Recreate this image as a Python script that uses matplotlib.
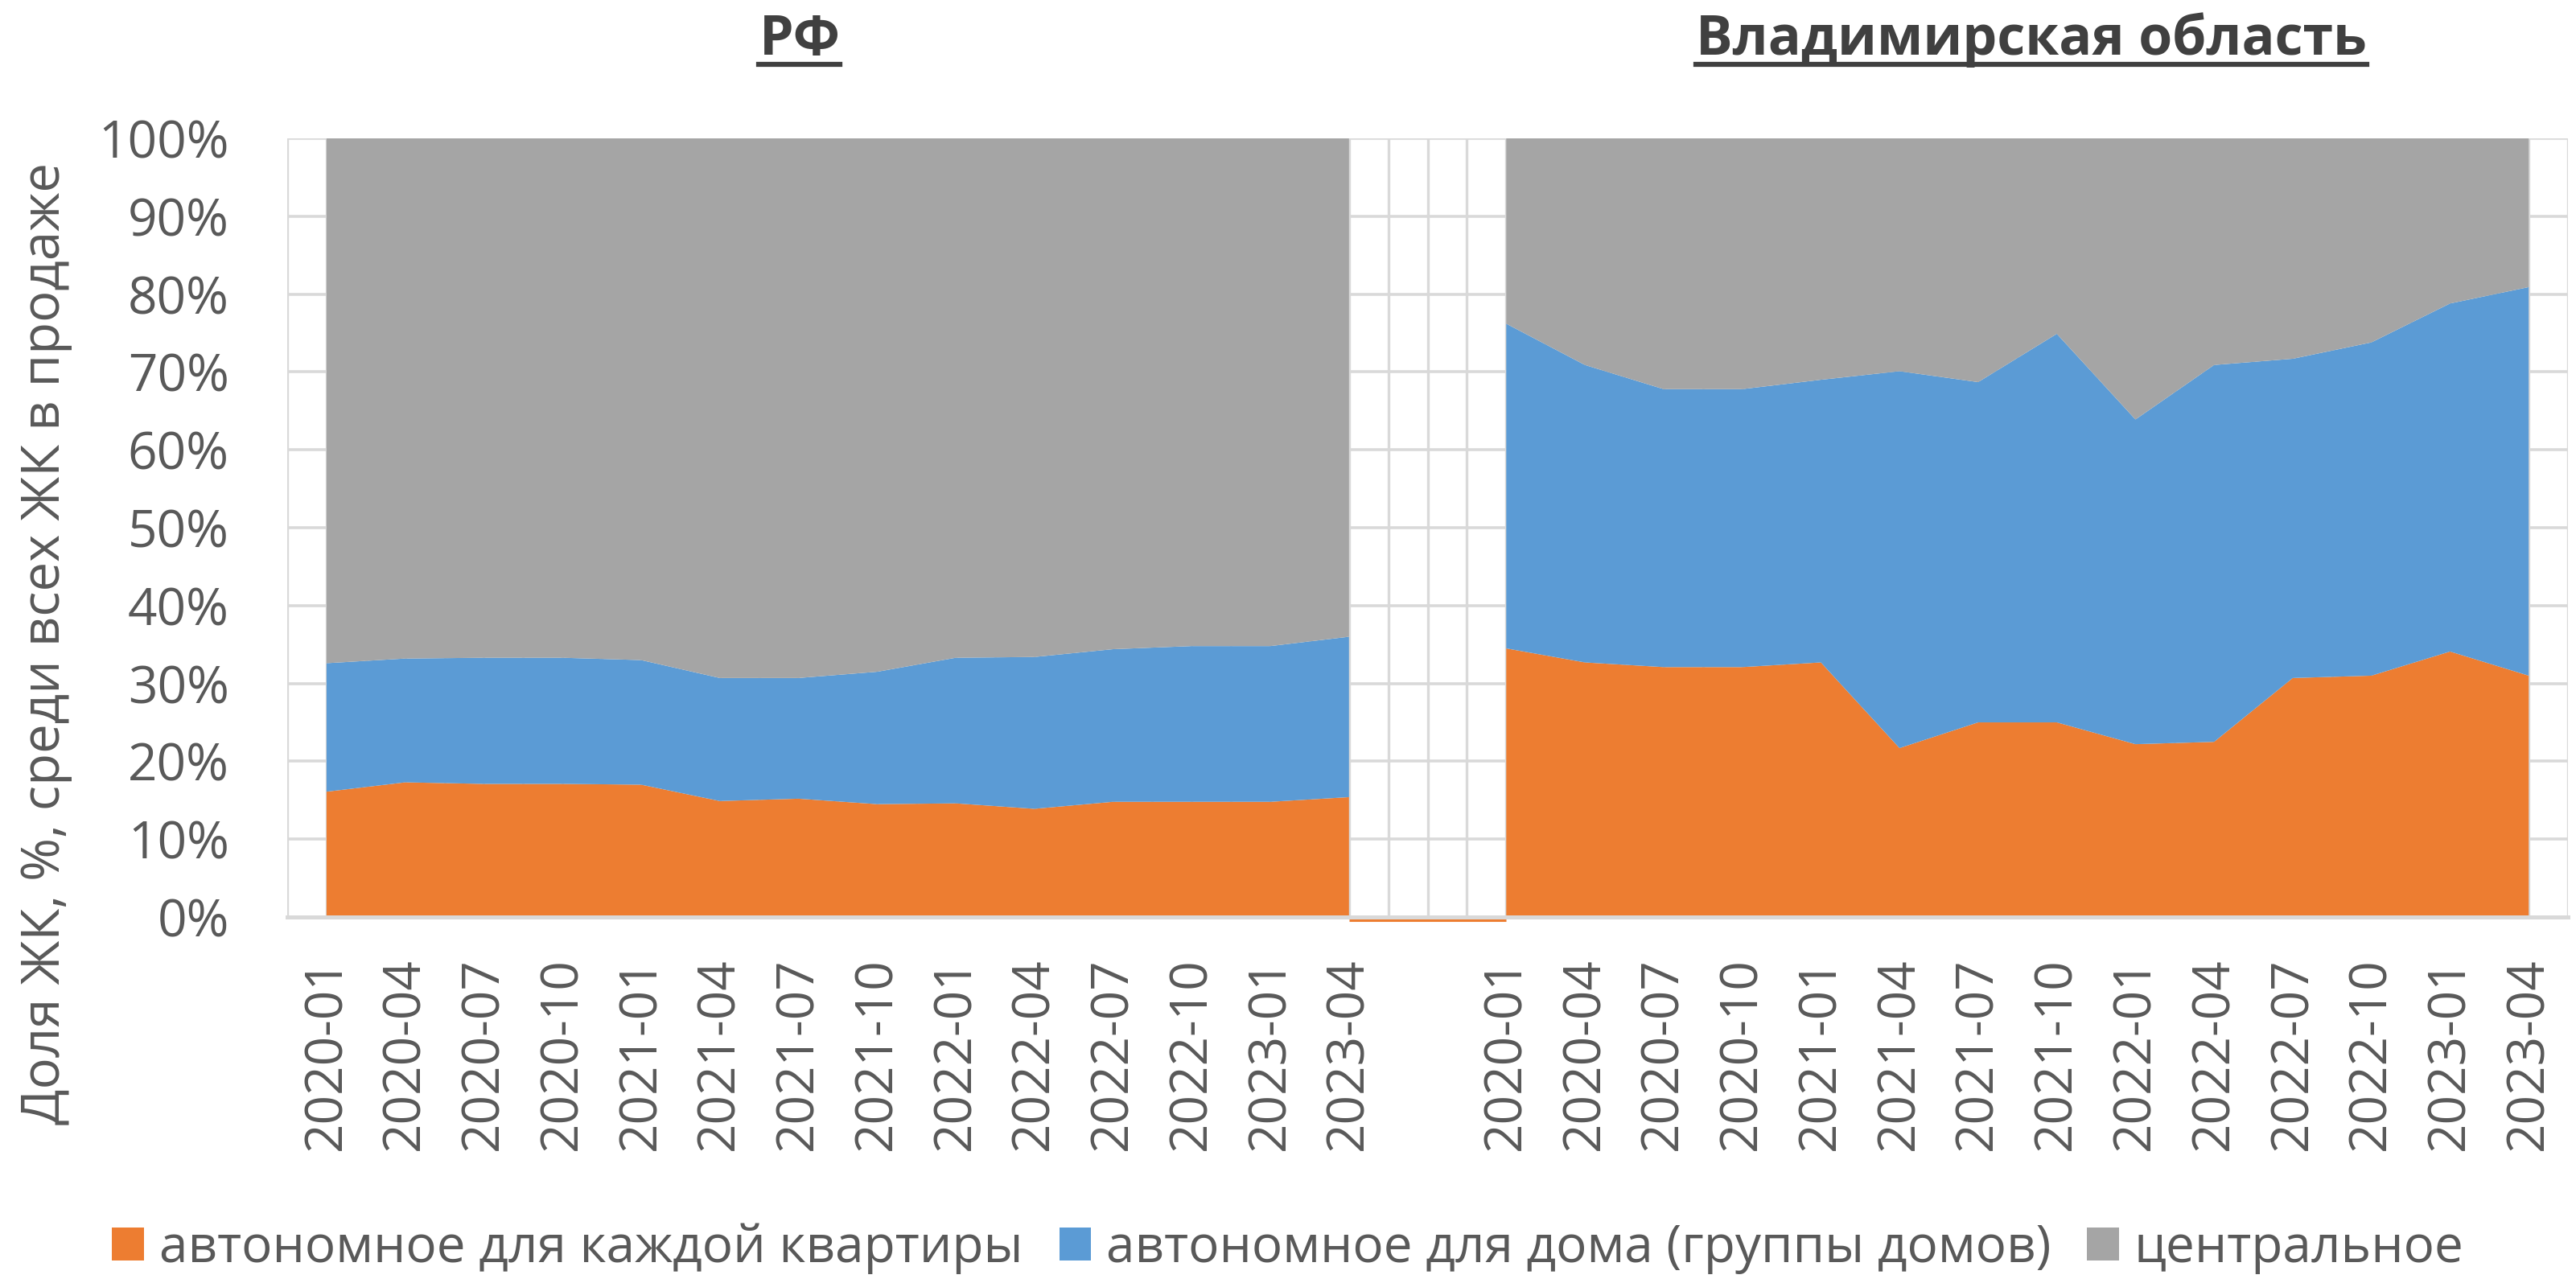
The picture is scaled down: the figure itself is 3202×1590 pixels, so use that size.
import matplotlib

matplotlib.use('Agg')
import matplotlib.pyplot as plt
import numpy as np
from matplotlib.lines import Line2D

plt.rcParams['font.family'] = ['Open Sans', 'DejaVu Sans']

# Периоды (одинаковые для обеих частей графика)
months = ['2020-01', '2020-04', '2020-07', '2020-10',
          '2021-01', '2021-04', '2021-07', '2021-10',
          '2022-01', '2022-04', '2022-07', '2022-10',
          '2023-01', '2023-04']

series_names = ['автономное для каждой квартиры',
                'автономное для дома (группы домов)',
                'центральное']

# РФ, доля ЖК в %
rf_kvartira = [16.1, 17.3, 17.1, 17.1, 17.0, 14.9, 15.2, 14.5, 14.6, 13.9, 14.8, 14.8, 14.8, 15.4]
rf_dom = [16.5, 15.9, 16.2, 16.2, 16.0, 15.8, 15.5, 17.0, 18.7, 19.5, 19.6, 20.0, 20.0, 20.6]
rf_central = [67.4, 66.8, 66.7, 66.7, 67.0, 69.3, 69.3, 68.5, 66.7, 66.6, 65.6, 65.2, 65.2, 64.0]

# Владимирская область, доля ЖК в %
vl_kvartira = [34.5, 32.7, 32.1, 32.1, 32.7, 21.7, 25.0, 25.0, 22.2, 22.5, 30.7, 31.0, 34.1, 31.0]
vl_dom = [41.7, 38.2, 35.7, 35.7, 36.3, 48.4, 43.7, 49.9, 41.7, 48.4, 41.0, 42.8, 44.7, 49.9]
vl_central = [23.8, 29.1, 32.2, 32.2, 31.0, 29.9, 31.3, 25.1, 36.1, 29.1, 28.3, 26.2, 21.2, 19.1]

colors = ['#ED7D31', '#5B9BD5', '#A5A5A5']
text_color = '#595959'
grid_color = '#D9D9D9'

n = len(months)
gap = 1  # пустая категория между блоками
x_rf = np.arange(n)
x_vl = np.arange(n) + n + gap
n_total = 2 * n + gap

fig = plt.figure(figsize=(32.02, 15.90), dpi=100)
ax = fig.add_axes([0.1115, 0.2830, 0.8854, 0.6088])

ax.stackplot(x_rf, rf_kvartira, rf_dom, rf_central, colors=colors,
             labels=series_names, lw=0, zorder=2)
ax.stackplot(x_vl, vl_kvartira, vl_dom, vl_central, colors=colors,
             lw=0, zorder=2)

# нулевая линия в пустой категории
ax.plot([x_rf[-1], x_vl[0]], [-0.45, -0.45], color=colors[0], lw=2.2,
        clip_on=False, solid_capstyle='butt', zorder=1)

ax.set_xlim(-0.5, n_total - 0.5)
ax.set_ylim(0, 100)

# сетка
for yv in range(0, 101, 10):
    ax.axhline(yv, color=grid_color, lw=2.6, zorder=0)
for xv in np.arange(-0.5, n_total, 0.5):
    ax.axvline(xv, color=grid_color, lw=2.4, zorder=0)

for s in ['top', 'left', 'right']:
    ax.spines[s].set_visible(False)
ax.spines['bottom'].set_color(grid_color)
ax.spines['bottom'].set_linewidth(3.6)
ax.spines['bottom'].set_zorder(3)

ax.set_yticks(range(0, 101, 10))
ax.set_yticklabels([f'{v}%' for v in range(0, 101, 10)])
ax.set_xticks(list(x_rf) + list(x_vl))
ax.set_xticklabels(months + months, rotation=90, ha='center', va='top')
ax.tick_params(axis='y', length=0, pad=52, labelsize=46, labelcolor=text_color)
ax.tick_params(axis='x', length=0, pad=36, labelsize=46, labelcolor=text_color)

fig.text(57 / 3202, 0.497, 'Доля ЖК, %, среди всех ЖК в продаже', rotation=90,
         ha='center', va='center', fontsize=47, color=text_color)

# заголовки с подчёркиванием
titles = [fig.text(0.3104, 0.9572, 'РФ', ha='center', va='baseline',
                   fontsize=49, fontweight='bold', color='#404040'),
          fig.text(0.7886, 0.9572, 'Владимирская область', ha='center', va='baseline',
                   fontsize=49, fontweight='bold', color='#404040')]
fig.canvas.draw()
renderer = fig.canvas.get_renderer()
W, H = fig.bbox.width, fig.bbox.height
for t in titles:
    bb = t.get_window_extent(renderer)
    y_line = 0.9572 - 12 / H
    fig.add_artist(Line2D([bb.x0 / W, bb.x1 / W], [y_line, y_line],
                          color='#404040', lw=4.5))

handles, labels = ax.get_legend_handles_labels()
fig.legend(handles, labels, loc='center', bbox_to_anchor=(0.5, 0.024), ncol=3,
           frameon=False, fontsize=46, labelcolor=text_color,
           handlelength=0.62, handleheight=0.62, handletextpad=0.29,
           columnspacing=0.71, borderpad=0, borderaxespad=0)

fig.savefig('out.png', dpi=100)
plt.close(fig)
